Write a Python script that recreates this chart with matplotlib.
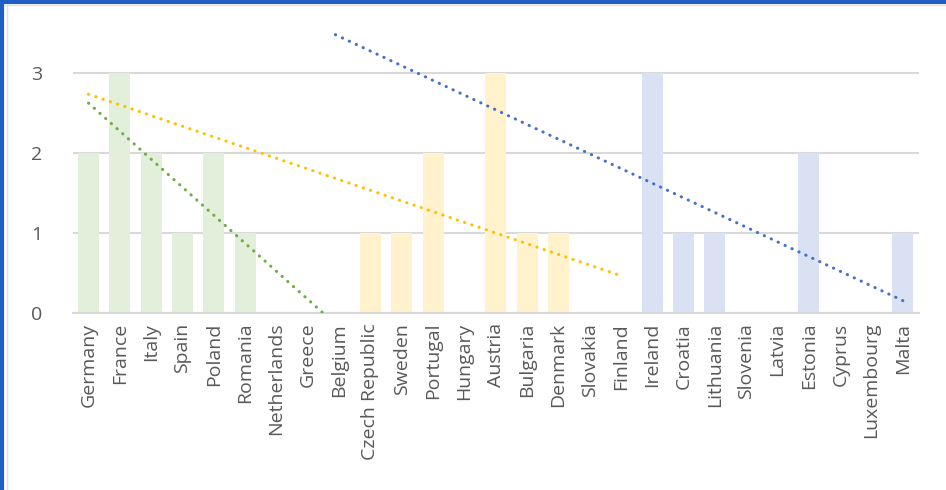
import numpy as np
import matplotlib.pyplot as plt
import matplotlib.lines as mlines

countries = ['Germany', 'France', 'Italy', 'Spain', 'Poland', 'Romania', 'Netherlands',
             'Greece', 'Belgium', 'Czech Republic', 'Sweden', 'Portugal', 'Hungary',
             'Austria', 'Bulgaria', 'Denmark', 'Slovakia', 'Finland', 'Ireland', 'Croatia',
             'Lithuania', 'Slovenia', 'Latvia', 'Estonia', 'Cyprus', 'Luxembourg', 'Malta']

nan = np.nan
# three groups, blank (nan) outside each group's range
large = [2, 3, 2, 1, 2, 1, 0, 0, 0]
medium = [nan] * 9 + [1, 1, 2, 0, 3, 1, 1, 0, 0]
small = [nan] * 18 + [3, 1, 1, 0, 0, 2, 0, 0, 1]

series = [
    (large, '#E2EFDA', '#70AD47'),
    (medium, '#FFF2CC', '#FFC000'),
    (small, '#D9E1F2', '#4472C4'),
]

plt.rcParams['font.family'] = ['Open Sans', 'DejaVu Sans']

fig = plt.figure(figsize=(9.46, 4.9), dpi=100)
ax = fig.add_axes([0.077, 0.361, 0.894, 0.572])

for vals, bar_col, line_col in series:
    y = np.array(vals, dtype=float)
    x = np.arange(len(y))
    ax.bar(x, np.nan_to_num(y), width=0.67, color=bar_col, zorder=2)
    # linear trend over the filled points, drawn across the series range
    ok = ~np.isnan(y)
    slope, icpt = np.polyfit(x[ok] + 1, y[ok], 1)
    xt = np.array([1, len(y)])
    ax.plot(xt - 1, slope * xt + icpt, color=line_col, lw=2.2,
            linestyle=(0, (0.1, 2.4)), dash_capstyle='round', zorder=3)

ax.set_xlim(-0.5, len(countries) - 0.5)
ax.set_ylim(0, 3.5)
ax.set_yticks([0, 1, 2, 3])
ax.set_xticks(range(len(countries)))
ax.set_xticklabels(countries, rotation=90)
ax.tick_params(axis='both', length=0, labelsize=14, labelcolor='#595959')
ax.tick_params(axis='y', pad=22)
ax.tick_params(axis='x', pad=7)
ax.grid(axis='y', color='#D9D9D9', lw=1.5, zorder=0)
for s in ['top', 'right', 'left']:
    ax.spines[s].set_visible(False)
ax.spines['bottom'].set_color('#D9D9D9')
ax.spines['bottom'].set_linewidth(1.5)

# window frame on the top and left edges
fig.add_artist(mlines.Line2D([0, 1], [0.996, 0.996], color='#1F5FC5', lw=3))
fig.add_artist(mlines.Line2D([0.002, 0.002], [0, 1], color='#1F5FC5', lw=3))
fig.add_artist(mlines.Line2D([0.005, 1], [0.99, 0.99], color='#E0E0E0', lw=1))
fig.add_artist(mlines.Line2D([0.007, 0.007], [0, 0.99], color='#E0E0E0', lw=1))

fig.savefig('out.png', dpi=100)
